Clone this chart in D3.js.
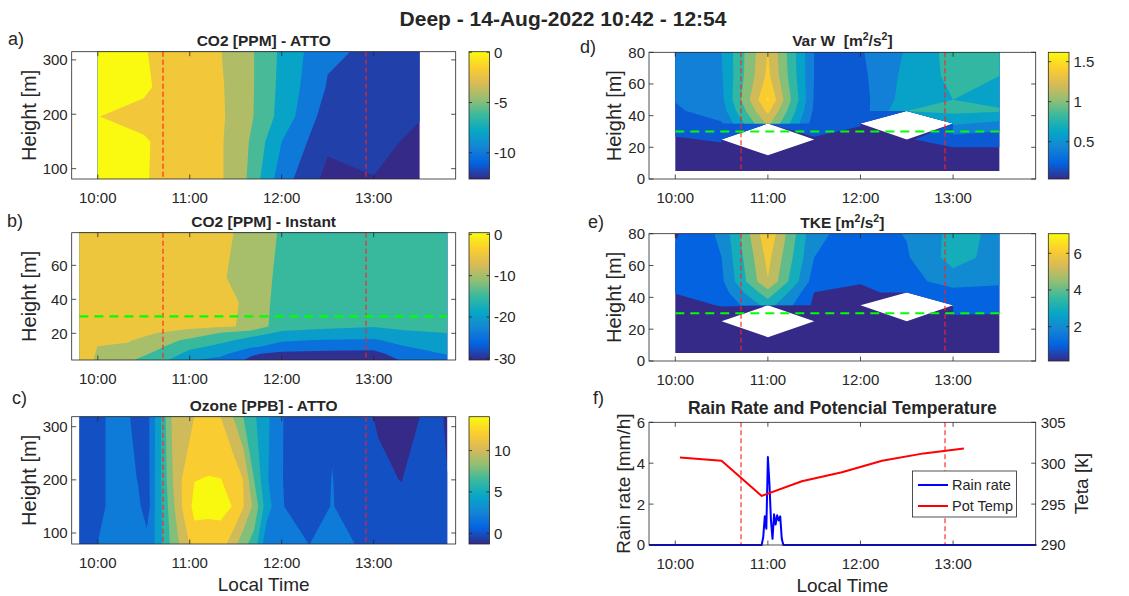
<!DOCTYPE html>
<html>
<head>
<meta charset="utf-8">
<script src="https://cdn.jsdelivr.net/npm/d3@7"></script>
<style>
  body { margin: 0; background: #fff; }
  text { font-family: "Liberation Sans", Arial, Helvetica, sans-serif; fill: #262626; }
</style>
</head>
<body>
<script>
// ---------------- data ----------------
var xDomain = ["09:42:58", "13:53:32"];
var xTicks = ["10:00", "11:00", "12:00", "13:00"];
var eventTimes = ["10:42:45", "12:54:50"];
var blHeight = 30;

// a) CO2 ATTO  (one column per time, values bottom -> top)
var co2AttoTimes = ["10:00", "10:30", "11:00", "11:30", "12:00", "12:30", "13:00", "13:30"];
var co2AttoHeights = [81, 150, 196, 250, 316];
var co2Atto = [
  [0.2, 0.25, 0.02, 0.3, 0.2],
  [0.1, 0.15, -0.4, 0.25, 0.1],
  [-0.76, -0.9, -1.1, -1.1, -1.1],
  [-2.45, -2.4, -2.27, -2.3, -2.4],
  [-9.1, -8.0, -6.75, -6.56, -6.4],
  [-12.6, -11.6, -11.0, -10.16, -9.7],
  [-12.05, -11.47, -11.2, -10.8, -10.3],
  [-12.5, -12.4, -11.9, -11.8, -11.5]
];
var co2AttoLevels = [-12, -10, -8, -6, -4, -2, 0];
var co2AttoClim = [-12.6, 0.05];
var co2AttoCTicks = [-10, -5, 0];

// b) CO2 instant
var co2InstTimes = ["09:48", "10:00", "10:20", "10:40", "11:00", "11:20", "11:40", "12:00", "12:30", "13:00", "13:20", "13:48"];
var co2InstHeights = [4.3, 8, 12, 16, 20, 24, 38, 53, 79.2];
var co2Inst = [
  [-4, -3.8, -3.6, -3.5, -3.4, -3.3, -3.2, -3.2, -3.2],
  [-5.3, -5.2, -5.05, -4.6, -4.2, -3.9, -3.5, -3.3, -3.2],
  [-9.3, -7.6, -5.8, -4.6, -4.2, -3.9, -3.5, -3.3, -3.2],
  [-13, -11.2, -9.4, -7.3, -5.1, -4.2, -3.6, -3.3, -3.2],
  [-19.5, -16.5, -14.0, -11.2, -6.0, -4.4, -3.8, -3.4, -3.3],
  [-21.5, -18.5, -16.2, -13.8, -10.4, -4.6, -4.5, -4.5, -4.5],
  [-26, -24.3, -19.5, -16.3, -13.5, -5.4, -5.33, -7.0, -5.66],
  [-28, -26.5, -21.5, -19.5, -15.8, -13.5, -12.8, -11.3, -10.77],
  [-30.4, -27, -22.5, -20.2, -17, -14, -13, -12.5, -12],
  [-29.5, -26.5, -23.5, -20.5, -17.5, -14.8, -13, -12.5, -12],
  [-24, -22.5, -20.3, -18, -15.8, -14, -13, -12.5, -12],
  [-21.5, -19.7, -18, -16.3, -15.1, -13.5, -12.8, -12.3, -12]
];
var co2InstLevels = [-30, -25, -20, -15, -10, -5, 0];
var co2InstClim = [-30.4, 0.4];
var co2InstCTicks = [-30, -20, -10, 0];

// c) Ozone ATTO
var ozoneTimes = ["09:48", "10:00", "10:10", "10:20", "10:26", "10:32", "10:37", "10:42", "10:47", "10:53", "11:03", "11:12", "11:20",
  "11:28", "11:35", "11:42", "11:50", "12:00", "12:18", "12:33", "12:48", "13:03", "13:18", "13:33", "13:43", "13:48"];
var ozoneHeights = [79, 150, 200, 319];
var ozone = [
  [1.5, 1.4, 1.4, 1.3],
  [2.02, 1.6, 1.6, 1.6],
  [2.8, 2.4, 2.4, 2.4],
  [3.0, 2.8, 2.5, 2.1],
  [3.2, 2.6, 1.95, 1.5],
  [2.9, 0.8, 1.0, 1.2],
  [4.0, 3.9, 3.9, 3.8],
  [6.0, 6.2, 6.3, 6.4],
  [8.0, 8.6, 9.2, 9.8],
  [10.0, 11.4, 11.6, 11.0],
  [13.0, 14.6, 13.95, 12.0],
  [12.8, 14.6, 14.1, 12.6],
  [13.0, 14.6, 14.05, 12.0],
  [11.0, 13.95, 13.5, 10.05],
  [8.67, 12.1, 11.95, 8.0],
  [7.1, 9.5, 8.0, 6.3],
  [2.7, 5.0, 4.3, 4.5],
  [3.0, 2.1, 2.05, 2.05],
  [1.98, 1.0, 1.0, 1.2],
  [3.0, 2.1, 2.05, 1.8],
  [1.98, 1.0, 0.9, 0.7],
  [1.5, 1.0, 0.4, -0.2],
  [1.3, 0.6, -0.05, -1.3],
  [1.3, 1.2, 1.0, 0.3],
  [1.3, 1.3, 1.2, 0.3],
  [1.3, 1.3, 0.05, -0.3]
];
var ozoneLevels = [0, 2, 4, 6, 8, 10, 12, 14];
var ozoneClim = [-1.3, 14.1];
var ozoneCTicks = [0, 5, 10];

// d) Var W and e) TKE (tower)
var towerTimes = ["10:00", "10:30", "11:00", "11:30", "12:00", "12:30", "13:00", "13:30"];
var towerHeights = [5, 15, 25, 35, 43, 50, 65, 80];
var varW = [
  [0.034, 0.10, 0.18, 0.30, 0.37, 0.41, 0.48, 0.50],
  [0.06, 0.12, 0.22, 0.38, 0.50, 0.55, 0.58, 0.60],
  [0.05, 0.10, NaN, 1.25, 1.45, 1.62, 1.45, 1.41],
  [0.05, 0.10, 0.18, 0.30, 0.36, 0.38, 0.40, 0.40],
  [0.05, 0.10, 0.15, 0.21, 0.30, 0.32, 0.35, 0.38],
  [0.05, 0.10, 0.18, NaN, 0.80, 0.70, 0.66, 0.62],
  [0.05, 0.10, 0.30, 0.63, 0.85, 0.80, 0.85, 0.88],
  [0.05, 0.15, 0.25, 0.55, 0.82, 0.75, 0.80, 0.85]
];
var varWLevels = [0.2, 0.4, 0.6, 0.8, 1.0, 1.2, 1.4, 1.6];
var varWClim = [0.034, 1.617];
var varWCTicks = [0.5, 1, 1.5];

var tke = [
  [0.13, 0.3, 0.5, 0.8, 1.02, 1.3, 1.2, 0.9],
  [0.2, 0.3, 0.6, 1.03, 1.5, 1.8, 2.0, 2.2],
  [0.2, 0.3, NaN, 3.4, 4.6, 5.95, 6.3, 6.8],
  [0.2, 0.3, 0.5, 0.8, 0.99, 1.5, 2.0, 2.2],
  [0.2, 0.3, 0.4, 0.6, 0.85, 1.05, 1.5, 1.6],
  [0.2, 0.3, 0.5, NaN, 1.2, 1.6, 1.9, 2.05],
  [0.2, 0.4, 0.8, 1.3, 1.6, 2.5, 3.4, 3.3],
  [0.2, 0.4, 0.75, 1.3, 1.6, 2.2, 2.6, 2.8]
];
var tkeLevels = [1, 2, 3, 4, 5, 6, 7];
var tkeClim = [0.13, 7.07];
var tkeCTicks = [2, 4, 6];

// f) rain rate and potential temperature
var rainTimes = ["09:43", "10:56", "10:57", "10:58", "10:59", "11:00", "11:01", "11:02", "11:03", "11:04", "11:05",
  "11:06", "11:07", "11:08", "11:09", "11:10", "13:54"];
var rainRate = [0, 0, 0.4, 1.4, 0.8, 4.3, 3.0, 1.2, 0.3, 1.5, 1.0, 1.45, 1.2, 1.4, 0.3, 0, 0];
var tempTimes = ["10:03", "10:30", "10:56", "11:22", "11:48", "12:14", "12:41", "13:07"];
var potTemp = [300.7, 300.3, 296.0, 297.8, 298.9, 300.3, 301.2, 301.8];

// ---------------- drawing ----------------
var parulaStops = ["#352a87", "#0363e1", "#1485d4", "#06a7c6", "#38b99e", "#92bf73", "#d9ba56", "#fcce2e", "#f9fb0e"];
var parula = d3.scaleLinear()
    .domain(parulaStops.map(function(c, i) { return i / (parulaStops.length - 1); }))
    .range(parulaStops)
    .clamp(true);

function T(s) {
  return d3.timeParse(s.length > 5 ? "%H:%M:%S" : "%H:%M")(s);
}

var svg = d3.select("body").append("svg")
    .attr("width", 1129)
    .attr("height", 596);
var defs = svg.append("defs");

var grad = defs.append("linearGradient")
    .attr("id", "parula")
    .attr("x1", 0).attr("y1", 1).attr("x2", 0).attr("y2", 0);
parulaStops.forEach(function(c, i) {
  grad.append("stop").attr("offset", i / (parulaStops.length - 1)).attr("stop-color", c);
});

var axisColor = "#262626";
var tickLen = 4.5;

svg.append("text")
    .attr("x", 563).attr("y", 26)
    .attr("text-anchor", "middle")
    .style("font-size", "21px")
    .style("font-weight", "bold")
    .text("Deep - 14-Aug-2022 10:42 - 12:54");

function frame(g, box, x, yL, yTicksL, yR, yTicksR) {
  g.append("rect")
      .attr("x", box.x0).attr("y", box.y0)
      .attr("width", box.x1 - box.x0).attr("height", box.y1 - box.y0)
      .attr("fill", "none").attr("stroke", axisColor).attr("stroke-width", 0.8);
  xTicks.forEach(function(t) {
    var px = x(T(t));
    g.append("line").attr("x1", px).attr("x2", px).attr("y1", box.y1).attr("y2", box.y1 - tickLen)
        .attr("stroke", axisColor).attr("stroke-width", 0.8);
    g.append("line").attr("x1", px).attr("x2", px).attr("y1", box.y0).attr("y2", box.y0 + tickLen)
        .attr("stroke", axisColor).attr("stroke-width", 0.8);
    g.append("text").attr("x", px).attr("y", box.y1 + 23.5)
        .attr("text-anchor", "middle").style("font-size", "15px")
        .text(t);
  });
  yTicksL.forEach(function(v) {
    var py = yL(v);
    g.append("line").attr("x1", box.x0).attr("x2", box.x0 + tickLen).attr("y1", py).attr("y2", py)
        .attr("stroke", axisColor).attr("stroke-width", 0.8);
    if (!yR) {
      g.append("line").attr("x1", box.x1).attr("x2", box.x1 - tickLen).attr("y1", py).attr("y2", py)
          .attr("stroke", axisColor).attr("stroke-width", 0.8);
    }
    g.append("text").attr("x", box.x0 - 4).attr("y", py).attr("dy", "0.36em")
        .attr("text-anchor", "end").style("font-size", "15px")
        .text(v);
  });
  if (yR) {
    yTicksR.forEach(function(v) {
      var py = yR(v);
      g.append("line").attr("x1", box.x1).attr("x2", box.x1 - tickLen).attr("y1", py).attr("y2", py)
          .attr("stroke", axisColor).attr("stroke-width", 0.8);
      g.append("text").attr("x", box.x1 + 5).attr("y", py).attr("dy", "0.36em")
          .style("font-size", "15px")
          .text(v);
    });
  }
}

function eventLines(g, x, yTop, yBottom) {
  eventTimes.forEach(function(t) {
    var px = Math.round(x(T(t)));
    g.append("line")
        .attr("x1", px).attr("x2", px).attr("y1", yTop).attr("y2", yBottom)
        .attr("stroke", "#ff2020").attr("stroke-opacity", 0.75)
        .attr("stroke-width", 1.5).attr("stroke-dasharray", "5,3");
  });
}

function vlabel(g, text, cx, cy, size) {
  g.append("text")
      .attr("transform", "translate(" + cx + "," + cy + ") rotate(-90)")
      .attr("text-anchor", "middle")
      .attr("dominant-baseline", "central")
      .style("font-size", size + "px")
      .text(text);
}

function contourPanel(p) {
  var box = p.box;
  var g = svg.append("g");
  var x = d3.scaleTime().domain(xDomain.map(T)).range([box.x0, box.x1]);
  var y = d3.scaleLinear().domain(p.yDomain).range([box.y1, box.y0]);

  var nx = p.times.length, ny = p.heights.length;
  var values = [];
  for (var j = 0; j < ny; j++) {
    for (var i = 0; i < nx; i++) {
      var v = p.grid[i][j];
      values.push(isNaN(v) ? -1e9 : v);
    }
  }
  // grid index -> pixel (grid point k sits at k + 0.5)
  var fx = d3.scaleLinear()
      .domain(p.times.map(function(t, i) { return i + 0.5; }))
      .range(p.times.map(function(t) { return x(T(t)); }));
  var fy = d3.scaleLinear()
      .domain(p.heights.map(function(h, j) { return j + 0.5; }))
      .range(p.heights.map(function(h) { return y(h); }));

  var thresholds = [-1e5].concat(p.levels);
  var contours = d3.contours().size([nx, ny]).thresholds(thresholds)(values);

  var cx0 = Math.max(box.x0, fx(0.5)), cx1 = Math.min(box.x1, fx(nx - 0.5));
  var cy0 = Math.max(box.y0, fy(ny - 0.5)), cy1 = Math.min(box.y1, fy(0.5));
  defs.append("clipPath").attr("id", "clip-" + p.id)
    .append("rect")
      .attr("x", cx0).attr("y", cy0)
      .attr("width", cx1 - cx0).attr("height", cy1 - cy0);

  g.append("g")
      .attr("clip-path", "url(#clip-" + p.id + ")")
    .selectAll("path")
    .data(contours)
    .enter().append("path")
      .attr("d", function(c) {
        return c.coordinates.map(function(poly) {
          return poly.map(function(ring) {
            return "M" + ring.map(function(pt) { return fx(pt[0]) + "," + fy(pt[1]); }).join("L") + "Z";
          }).join("");
        }).join("");
      })
      .attr("fill-rule", "evenodd")
      .attr("fill", function(c, k) {
        return k === 0 ? parula(0) : parula((c.value - p.clim[0]) / (p.clim[1] - p.clim[0]));
      });

  eventLines(g, x, cy0, cy1);

  if (p.bl) {
    g.append("line")
        .attr("x1", fx(0.5)).attr("x2", fx(nx - 0.5))
        .attr("y1", y(blHeight)).attr("y2", y(blHeight))
        .attr("stroke", "#00ff00").attr("stroke-width", 2.2)
        .attr("stroke-dasharray", "9,6");
  }

  frame(g, box, x, y, p.yTicks);

  // colorbar
  var cb = p.cb;
  var ch = box.y1 - box.y0;
  g.append("rect")
      .attr("x", cb.x0).attr("y", box.y0)
      .attr("width", cb.x1 - cb.x0).attr("height", ch)
      .attr("fill", "url(#parula)")
      .attr("stroke", axisColor).attr("stroke-width", 0.8);
  p.cTicks.forEach(function(v) {
    var py = box.y1 - (v - p.clim[0]) / (p.clim[1] - p.clim[0]) * ch;
    g.append("line").attr("x1", cb.x1).attr("x2", cb.x1 - 3).attr("y1", py).attr("y2", py)
        .attr("stroke", axisColor).attr("stroke-width", 0.8);
    g.append("line").attr("x1", cb.x0).attr("x2", cb.x0 + 3).attr("y1", py).attr("y2", py)
        .attr("stroke", axisColor).attr("stroke-width", 0.8);
    g.append("text").attr("x", cb.x1 + 4.5).attr("y", py).attr("dy", "0.36em")
        .style("font-size", "15px")
        .text(v);
  });

  // titles and labels
  var tt = g.append("text")
      .attr("x", (box.x0 + box.x1) / 2).attr("y", box.y0 - 6)
      .attr("text-anchor", "middle")
      .style("font-size", "15.5px").style("font-weight", "bold");
  p.title.forEach(function(part) {
    tt.append("tspan")
        .attr("dy", part.sup ? -6 : (part.back ? 6 : 0))
        .style("font-size", part.sup ? "10.5px" : null)
        .text(part.s);
  });
  g.append("text").attr("x", p.letter[1]).attr("y", p.letter[2])
      .style("font-size", "18px").text(p.letter[0]);
  vlabel(g, "Height [m]", p.ylabX, (box.y0 + box.y1) / 2, 20);
  if (p.xlabel) {
    g.append("text").attr("x", (box.x0 + box.x1) / 2).attr("y", box.y1 + 47)
        .attr("text-anchor", "middle").style("font-size", "19px").text("Local Time");
  }
}

var leftCol = { x0: 71.7, x1: 455.7 }, rightCol = { x0: 649, x1: 1035.7 };
var leftCb = { x0: 469, x1: 489.5 }, rightCb = { x0: 1048.3, x1: 1069 };

contourPanel({
  id: "a", box: { x0: leftCol.x0, x1: leftCol.x1, y0: 51.7, y1: 179 }, cb: leftCb,
  times: co2AttoTimes, heights: co2AttoHeights, grid: co2Atto,
  levels: co2AttoLevels, clim: co2AttoClim, cTicks: co2AttoCTicks,
  yDomain: [81, 315], yTicks: [100, 200, 300],
  title: [{ s: "CO2 [PPM] - ATTO" }], letter: ["a)", 8, 45], ylabX: 29
});
contourPanel({
  id: "b", box: { x0: leftCol.x0, x1: leftCol.x1, y0: 232.7, y1: 360 }, cb: leftCb,
  times: co2InstTimes, heights: co2InstHeights, grid: co2Inst,
  levels: co2InstLevels, clim: co2InstClim, cTicks: co2InstCTicks,
  yDomain: [4.3, 79.2], yTicks: [20, 40, 60], bl: true,
  title: [{ s: "CO2 [PPM] - Instant" }], letter: ["b)", 7, 227], ylabX: 29
});
contourPanel({
  id: "c", box: { x0: leftCol.x0, x1: leftCol.x1, y0: 416.7, y1: 544 }, cb: leftCb,
  times: ozoneTimes, heights: ozoneHeights, grid: ozone,
  levels: ozoneLevels, clim: ozoneClim, cTicks: ozoneCTicks,
  yDomain: [79.3, 318.8], yTicks: [100, 200, 300], xlabel: true,
  title: [{ s: "Ozone [PPB] - ATTO" }], letter: ["c)", 12, 404], ylabX: 29
});
contourPanel({
  id: "d", box: { x0: rightCol.x0, x1: rightCol.x1, y0: 52.3, y1: 179 }, cb: rightCb,
  times: towerTimes, heights: towerHeights, grid: varW,
  levels: varWLevels, clim: varWClim, cTicks: varWCTicks,
  yDomain: [0, 80], yTicks: [0, 20, 40, 60, 80], bl: true,
  title: [{ s: "Var W\u00a0\u00a0[m" }, { s: "2", sup: true }, { s: "/s", back: true }, { s: "2", sup: true }, { s: "]", back: true }],
  letter: ["d)", 580, 53], ylabX: 614
});
contourPanel({
  id: "e", box: { x0: rightCol.x0, x1: rightCol.x1, y0: 233.7, y1: 361 }, cb: rightCb,
  times: towerTimes, heights: towerHeights, grid: tke,
  levels: tkeLevels, clim: tkeClim, cTicks: tkeCTicks,
  yDomain: [0, 80], yTicks: [0, 20, 40, 60, 80], bl: true,
  title: [{ s: "TKE [m" }, { s: "2", sup: true }, { s: "/s", back: true }, { s: "2", sup: true }, { s: "]", back: true }],
  letter: ["e)", 588, 228], ylabX: 614
});

// f) rain rate + potential temperature
(function() {
  var box = { x0: rightCol.x0, x1: rightCol.x1, y0: 422.3, y1: 545 };
  var g = svg.append("g");
  var x = d3.scaleTime().domain(xDomain.map(T)).range([box.x0, box.x1]);
  var yL = d3.scaleLinear().domain([0, 6]).range([box.y1, box.y0]);
  var yR = d3.scaleLinear().domain([290, 305]).range([box.y1, box.y0]);

  eventLines(g, x, box.y0, box.y1);

  var rain = rainTimes.map(function(t, i) { return [T(t), rainRate[i]]; });
  g.append("path")
      .attr("d", d3.line().x(function(d) { return x(d[0]); }).y(function(d) { return yL(d[1]); })(rain))
      .attr("fill", "none").attr("stroke", "#0000ff").attr("stroke-width", 2)
      .attr("stroke-linejoin", "round");

  var temp = tempTimes.map(function(t, i) { return [T(t), potTemp[i]]; });
  g.append("path")
      .attr("d", d3.line().x(function(d) { return x(d[0]); }).y(function(d) { return yR(d[1]); })(temp))
      .attr("fill", "none").attr("stroke", "#ff0000").attr("stroke-width", 2)
      .attr("stroke-linejoin", "round");

  frame(g, box, x, yL, [0, 2, 4, 6], yR, [290, 295, 300, 305]);

  g.append("text").attr("x", (box.x0 + box.x1) / 2).attr("y", box.y0 - 8)
      .attr("text-anchor", "middle")
      .style("font-size", "17.5px").style("font-weight", "bold")
      .text("Rain Rate and Potencial Temperature");
  g.append("text").attr("x", 593).attr("y", 404).style("font-size", "18px").text("f)");
  vlabel(g, "Rain rate [mm/h]", 623, (box.y0 + box.y1) / 2, 19);
  vlabel(g, "Teta [k]", 1081, (box.y0 + box.y1) / 2, 19);
  g.append("text").attr("x", (box.x0 + box.x1) / 2).attr("y", box.y1 + 47)
      .attr("text-anchor", "middle").style("font-size", "19px").text("Local Time");

  // legend
  var lg = g.append("g");
  lg.append("rect").attr("x", 912.5).attr("y", 471).attr("width", 104).attr("height", 46)
      .attr("fill", "#fff").attr("stroke", axisColor).attr("stroke-width", 0.8);
  [["Rain rate", "#0000ff", 485], ["Pot Temp", "#ff0000", 506]].forEach(function(e) {
    lg.append("line").attr("x1", 918).attr("x2", 948).attr("y1", e[2]).attr("y2", e[2])
        .attr("stroke", e[1]).attr("stroke-width", 2);
    lg.append("text").attr("x", 952).attr("y", e[2]).attr("dy", "0.36em")
        .style("font-size", "14.5px").text(e[0]);
  });
})();
</script>
</body>
</html>
